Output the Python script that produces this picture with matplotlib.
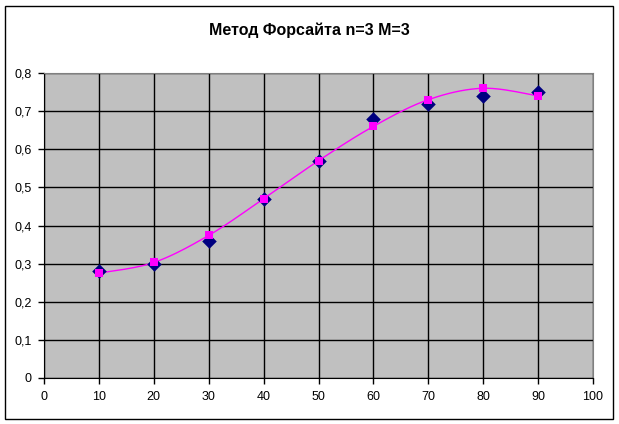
import numpy as np
import matplotlib.pyplot as plt
from matplotlib.patches import Rectangle

x_vals = [10, 20, 30, 40, 50, 60, 70, 80, 90]
actual = [0.28, 0.30, 0.36, 0.47, 0.57, 0.68, 0.72, 0.74, 0.75]
forecast = [0.275, 0.303, 0.374, 0.47, 0.57, 0.66, 0.73, 0.76, 0.74]
title = "Метод Форсайта n=3 M=3"
x_ticks = list(range(0, 101, 10))
y_ticks = [0, 0.1, 0.2, 0.3, 0.4, 0.5, 0.6, 0.7, 0.8]


def smooth(xs, ys, steps=20):
    # Catmull-Rom curve through the points, like Excel's smoothed line
    px = np.array(xs, float)
    py = np.array(ys, float)
    px = np.concatenate([[px[0]], px, [px[-1]]])
    py = np.concatenate([[py[0]], py, [py[-1]]])
    outx, outy = [], []
    for i in range(1, len(px) - 2):
        t = np.linspace(0, 1, steps)
        for p, out in ((px, outx), (py, outy)):
            p0, p1, p2, p3 = p[i - 1], p[i], p[i + 1], p[i + 2]
            out.extend(0.5 * (2 * p1 + (-p0 + p2) * t
                              + (2 * p0 - 5 * p1 + 4 * p2 - p3) * t ** 2
                              + (-p0 + 3 * p1 - 3 * p2 + p3) * t ** 3))
    return outx, outy


plt.rcParams['font.family'] = ['Liberation Sans', 'DejaVu Sans']

fig = plt.figure(figsize=(6.19, 4.24), dpi=100)
fig.patches.append(Rectangle((5 / 619, 5 / 424), 608 / 619, 413 / 424,
                             transform=fig.transFigure, fill=False,
                             edgecolor='black', linewidth=1))
ax = fig.add_axes([44 / 619, (424 - 378) / 424, 549 / 619, 305 / 424])
ax.set_facecolor('#c0c0c0')

ax.grid(True, color='black', linewidth=1)
ax.set_axisbelow(True)

sx, sy = smooth(x_vals, forecast)
ax.plot(sx, sy, color='#ff00ff', linewidth=1, zorder=3)
ax.scatter(x_vals, actual, marker='D', s=55, color='#000080', zorder=4,
           linewidths=0)
ax.scatter(x_vals, forecast, marker='s', s=30, color='#ff00ff', zorder=5,
           linewidths=0)

ax.set_xlim(0, 100)
ax.set_ylim(0, 0.8)
ax.set_xticks(x_ticks)
ax.set_yticks(y_ticks)
ax.set_yticklabels([('%g' % v).replace('.', ',') for v in y_ticks])
ax.tick_params(labelsize=9, length=4, width=1, color='black', pad=5)

ax.spines['top'].set_color('#808080')
ax.spines['right'].set_color('#808080')
for s in ('left', 'bottom'):
    ax.spines[s].set_color('black')

fig.text(309 / 619, 1 - 30 / 424, title, ha='center', va='center',
         fontsize=11.5, fontweight='bold')

fig.savefig('out.png', dpi=100)
